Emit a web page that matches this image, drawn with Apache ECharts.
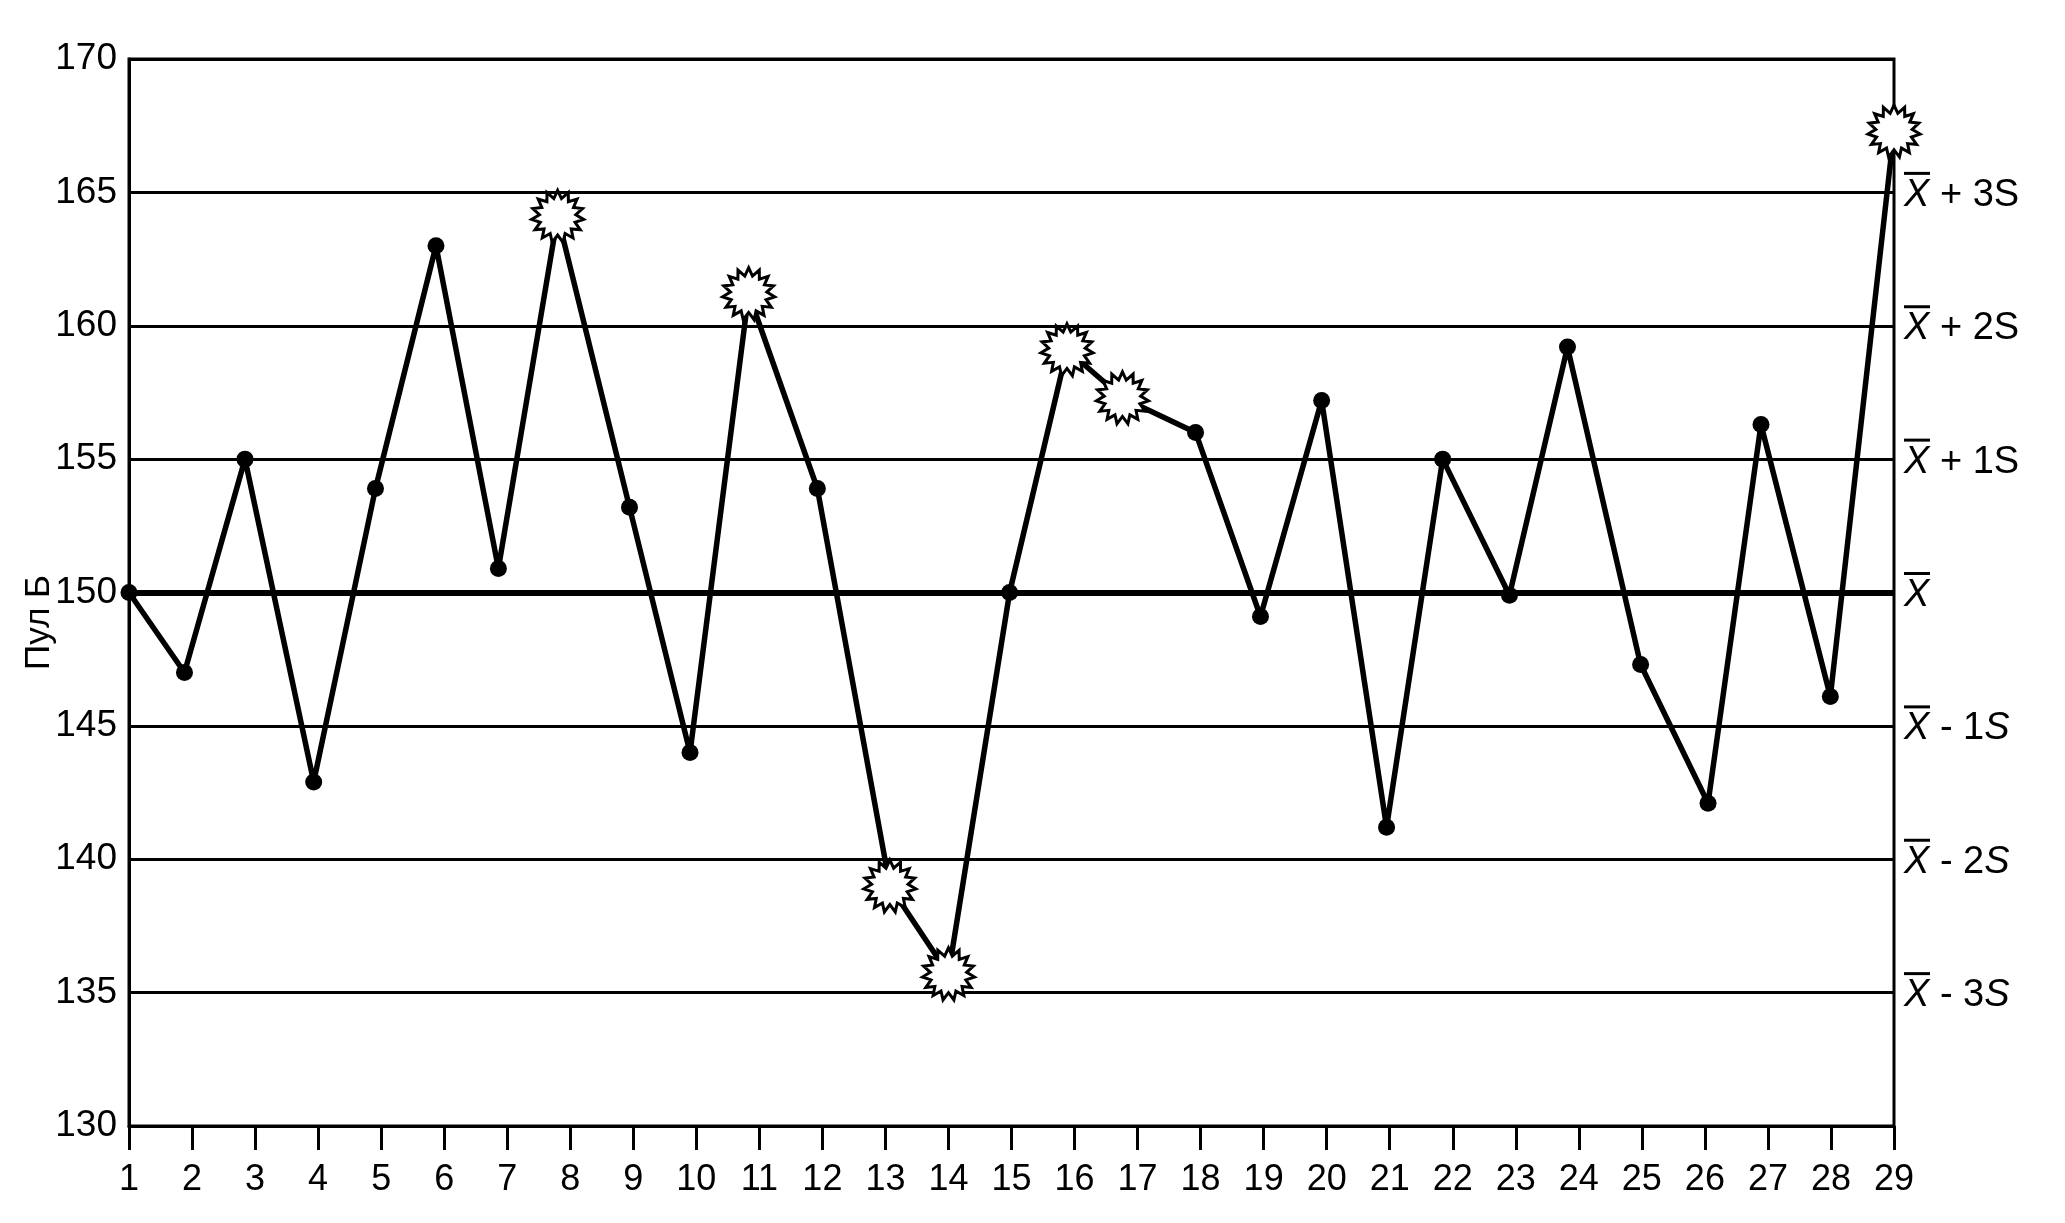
<!DOCTYPE html>
<html>
<head>
<meta charset="utf-8">
<script src="https://cdn.jsdelivr.net/npm/echarts@6/dist/echarts.min.js"></script>
<style>
html,body{margin:0;padding:0;background:#fff;}
#chart{width:2065px;height:1223px;}
</style>
</head>
<body>
<div id="chart"></div>
<script>
// ---- data ----
const samplePositions = [1, 1.88, 2.84, 3.93, 4.91, 5.87, 6.86, 7.80, 8.94, 9.90,
  10.83, 11.92, 13.07, 14.0, 14.97, 15.88, 16.76, 17.92, 18.95, 19.92,
  20.95, 21.84, 22.90, 23.82, 24.98, 26.05, 26.89, 27.99, 29];
const poolValues = [150.0, 147.0, 155.0, 142.9, 153.9, 163.0, 150.9, 164.1, 153.2, 144.0,
  161.2, 153.9, 139.0, 135.7, 150.0, 159.1, 157.3, 156.0, 149.1, 157.2,
  141.2, 155.0, 149.9, 159.2, 147.3, 142.1, 156.3, 146.1, 167.3];
const flaggedSamples = [8, 11, 13, 14, 16, 17, 29];
const xTicks = [1, 29];           // x axis range (labels 1..29)
const yTicks = [130, 170, 5];     // min, max, step
const meanValue = 150;
const controlLabels = {
  165: ['+', '3', false], 160: ['+', '2', false], 155: ['+', '1', false],
  150: ['', '', false],
  145: ['-', '1', true], 140: ['-', '2', true], 135: ['-', '3', true]
};
const yAxisName = 'Пул Б';

// ---- starburst marker shape ----
function starburst(n, rOut, rIn) {
  let d = '';
  for (let i = 0; i < 2 * n; i++) {
    const a = i * Math.PI / n - Math.PI / 2;
    const r = (i % 2) ? rIn : rOut;
    d += (i ? 'L' : 'M') + (r * Math.cos(a)).toFixed(3) + ' ' + (r * Math.sin(a)).toFixed(3) + ' ';
  }
  return 'path://' + d + 'Z';
}
const starSymbol = starburst(15, 1, 0.7);

const seriesData = samplePositions.map((x, i) => {
  const flagged = flaggedSamples.indexOf(i + 1) >= 0;
  return flagged ? {
    value: [x, poolValues[i]],
    symbol: starSymbol,
    symbolSize: 52,
    itemStyle: { color: '#fff', borderColor: '#000', borderWidth: 3 }
  } : {
    value: [x, poolValues[i]],
    symbol: 'circle',
    symbolSize: 17,
    itemStyle: { color: '#000', borderWidth: 0 }
  };
});

const FONT = 'Liberation Sans, Arial, Helvetica, sans-serif';
const chart = echarts.init(document.getElementById('chart'));
chart.setOption({
  animation: false,
  backgroundColor: '#fff',
  grid: {
    left: 129, right: 171, top: 59, bottom: 97,
    show: true, borderColor: '#000', borderWidth: 3, backgroundColor: 'transparent'
  },
  xAxis: {
    type: 'value', min: xTicks[0], max: xTicks[1], interval: 1,
    axisLine: { show: true, lineStyle: { color: '#000', width: 3 } },
    axisTick: { show: true, inside: false, length: 24, lineStyle: { color: '#000', width: 3 } },
    axisLabel: { color: '#000', fontSize: 36, fontFamily: FONT, margin: 36 },
    splitLine: { show: false }
  },
  yAxis: [{
    type: 'value', min: yTicks[0], max: yTicks[1], interval: yTicks[2],
    name: yAxisName, nameLocation: 'middle', nameGap: 72, nameRotate: 90,
    nameMoveOverlap: false,
    nameTextStyle: { color: '#000', fontSize: 35, fontFamily: FONT, padding: [0, 60, 0, 0] },
    axisLine: { show: true, lineStyle: { color: '#000', width: 3 } },
    axisTick: { show: false },
    axisLabel: { color: '#000', fontSize: 37, fontFamily: FONT, margin: 12 },
    splitLine: { show: true, lineStyle: { color: '#000', width: 3 } }
  }, {
    type: 'value', min: yTicks[0], max: yTicks[1], interval: yTicks[2], position: 'right',
    axisLine: { show: false }, axisTick: { show: false }, splitLine: { show: false },
    axisLabel: {
      margin: 10, align: 'left',
      formatter: function (v) {
        const c = controlLabels[v];
        if (!c) return '';
        if (!c[0]) return '{bar| }\n{x|X}';
        const sStyle = c[2] ? 'si' : 't';
        return '{bar| }\n{x|X}{t| ' + c[0] + ' ' + c[1] + '}{' + sStyle + '|S}';
      },
      rich: {
        bar: { width: 22, height: 3, lineHeight: 6, backgroundColor: '#000', padding: [0, 0, 0, 4] },
        x: { fontSize: 38, fontStyle: 'italic', fontFamily: FONT, color: '#000', lineHeight: 38 },
        t: { fontSize: 38, fontFamily: FONT, color: '#000', lineHeight: 38 },
        si: { fontSize: 38, fontFamily: FONT, color: '#000', lineHeight: 38, fontStyle: 'italic' }
      }
    }
  }],
  series: [{
    type: 'line',
    data: seriesData,
    lineStyle: { color: '#000', width: 5.5 },
    z: 5,
    markLine: {
      silent: true, symbol: 'none', label: { show: false },
      lineStyle: { color: '#000', width: 6, type: 'solid' },
      data: [{ yAxis: meanValue }]
    }
  }]
});
</script>
</body>
</html>
